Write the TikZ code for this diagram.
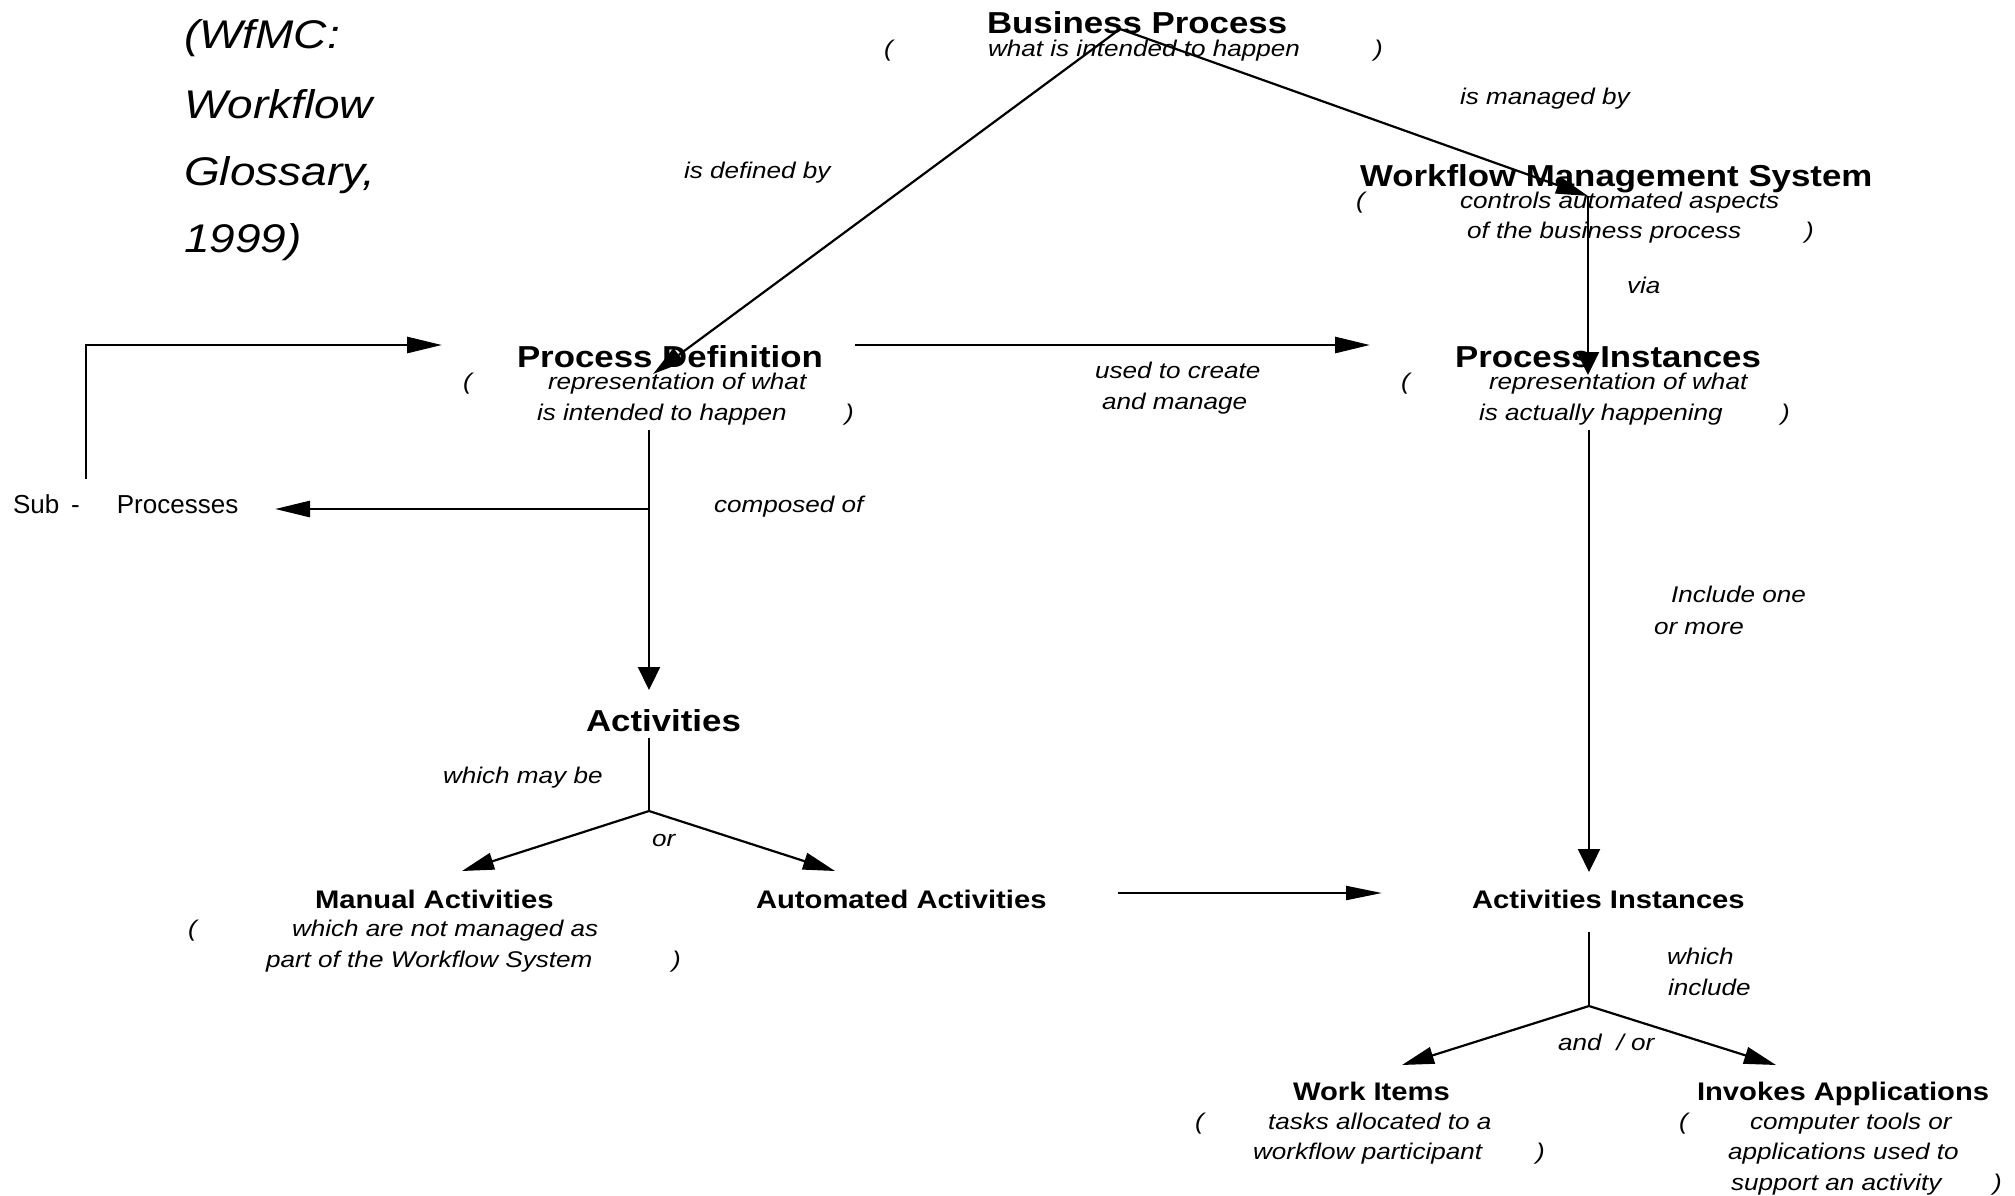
\documentclass[tikz,border=0pt]{standalone}
\usepackage{fontspec}
\setmainfont{Liberation Sans}
\newfontfamily\wf[FakeStretch=1.15]{Liberation Sans}
\usetikzlibrary{arrows.meta}
\tikzset{
  t/.style={anchor=base west, inner sep=0pt, outer sep=0pt},
  bigt/.style={t, font=\wf\bfseries\fontsize{30.3}{36}\selectfont},
  smt/.style={t, font=\wf\bfseries\fontsize{25.4}{30}\selectfont},
  desc/.style={t, font=\wf\itshape\fontsize{22.7}{27}\selectfont},
  citetxt/.style={t, font=\wf\itshape\fontsize{40}{48}\selectfont},
  plaintxt/.style={t, font=\fontsize{26}{31}\selectfont},
  con/.style={line width=2.2pt, draw=black},
  tcon/.style={line width=2.8pt, draw=black},
  darr/.style={-{Triangle[length=32pt,width=17pt]}},
  varr/.style={-{Triangle[length=23pt,width=22pt]}},
  harr/.style={-{Triangle[length=35pt,width=16pt]}},
  harrb/.style={-{Triangle[length=36pt,width=14pt]}},
}
\begin{document}
\begin{tikzpicture}[x=1pt,y=-1pt]
\fill[white] (0,0) rectangle (2015,1195);
\useasboundingbox (0,0) rectangle (2015,1195);

% citation
\node[citetxt] (c1) at (184,48) {(WfMC:};
\node[citetxt] (c2) at (184,118) {Workflow};
\node[citetxt] (c3) at (184,185) {Glossary,};
\node[citetxt] (c4) at (184,252) {1999)};

% Business Process
\node[bigt] (bp) at (987,33) {Business Process};
\node[desc] (bpl) at (884,56) {(};
\node[desc] (bpd) at (988,56) {what is intended to happen};
\node[desc] (bpr) at (1374,56) {)};

\node[desc] (lmanaged) at (1460,104) {is managed by};
\node[desc] (ldefined) at (684,178) {is defined by};

% Workflow Management System
\node[bigt] (wms) at (1360,186) {Workflow Management System};
\node[desc] (wmsl) at (1356,208) {(};
\node[desc] (wmsd1) at (1460,208) {controls automated aspects};
\node[desc] (wmsd2) at (1467,238) {of the business process};
\node[desc] (wmsr) at (1805,238) {)};
\node[desc] (lvia) at (1627,293) {via};

% Process Definition
\node[bigt] (pd) at (517,367) {Process Definition};
\node[desc] (pdl) at (463,389) {(};
\node[desc] (pdd1) at (548,389) {representation of what};
\node[desc] (pdd2) at (537,420) {is intended to happen};
\node[desc] (pdr) at (845,420) {)};

\node[desc] (lused1) at (1095,378) {used to create};
\node[desc] (lused2) at (1102,409) {and manage};

% Process Instances
\node[bigt] (pi) at (1455,367) {Process Instances};
\node[desc] (pil) at (1401,389) {(};
\node[desc] (pid1) at (1489,389) {representation of what};
\node[desc] (pid2) at (1479,420) {is actually happening};
\node[desc] (pir) at (1781,420) {)};

% Sub-Processes
\node[plaintxt] (sub) at (13,513) {Sub\hspace{12pt}-\hspace{37pt}Processes};
\node[desc] (lcomposed) at (714,512) {composed of};

\node[desc] (linc1) at (1671,602) {Include one};
\node[desc] (linc2) at (1654,634) {or more};

% Activities
\node[bigt] (act) at (586,731) {Activities};
\node[desc] (lmay) at (443,783) {which may be};
\node[desc] (lor) at (652,846) {or};

\node[smt] (ma) at (315,908) {Manual Activities};
\node[desc] (mal) at (188,936) {(};
\node[desc] (mad1) at (292,936) {which are not managed as};
\node[desc] (mad2) at (266,967) {part of the Workflow System};
\node[desc] (mar) at (672,967) {)};

\node[smt] (aa) at (756,908) {Automated Activities};
\node[smt] (ai) at (1472,908) {Activities Instances};

\node[desc] (lwhich1) at (1667,964) {which};
\node[desc] (lwhich2) at (1668,995) {include};
\node[desc] (landor) at (1558,1050) {and\hspace{15pt}/ or};

% Work Items
\node[smt] (wi) at (1293,1100) {Work Items};
\node[desc] (wil) at (1195,1129) {(};
\node[desc] (wid1) at (1268,1129) {tasks allocated to a};
\node[desc] (wid2) at (1253,1159) {workflow participant};
\node[desc] (wir) at (1536,1159) {)};

% Invokes Applications
\node[smt] (ia) at (1697,1100) {Invokes Applications};
\node[desc] (ial) at (1679,1129) {(};
\node[desc] (iad1) at (1750,1129) {computer tools or};
\node[desc] (iad2) at (1728,1159) {applications used to};
\node[desc] (iad3) at (1731,1190) {support an activity};
\node[desc] (iar) at (1993,1190) {)};

% connector points
\coordinate (bpj) at (1120,29);
\coordinate (pdtip) at (653,374);
\coordinate (wmstip) at (1588,196);
\coordinate (pitop) at (1588,375);
\coordinate (pdright) at (855,345);
\coordinate (pileft) at (1370,345);
\coordinate (loopb) at (86,479);
\coordinate (loopc) at (86,345);
\coordinate (pdleft) at (442,345);
\coordinate (pdb) at (649,430);
\coordinate (subj) at (649,509);
\coordinate (subtip) at (275,509);
\coordinate (acttip) at (649,690);
\coordinate (actb) at (649,738);
\coordinate (actj) at (649,811);
\coordinate (matip) at (462,871);
\coordinate (aatip) at (835,871);
\coordinate (aaright) at (1118,893);
\coordinate (aileft) at (1382,893);
\coordinate (pib) at (1589,430);
\coordinate (aitop) at (1589,872);
\coordinate (aib) at (1589,932);
\coordinate (aij) at (1589,1006);
\coordinate (witip) at (1402,1065);
\coordinate (iatip) at (1776,1065);

% connectors
\draw[con,darr] (bpj) -- (pdtip);
\draw[con,darr] (bpj) -- (wmstip);
\draw[con,varr] (wmstip) -- (pitop);
\draw[tcon,harr] (pdright) -- (pileft);
\draw[tcon,harr] (loopb) -- (loopc) -- (pdleft);
\draw[con,varr] (pdb) -- (acttip);
\draw[tcon,harr] (subj) -- (subtip);
\draw[con] (actb) -- (actj);
\draw[con,darr] (actj) -- (matip);
\draw[con,darr] (actj) -- (aatip);
\draw[con,harrb] (aaright) -- (aileft);
\draw[con,varr] (pib) -- (aitop);
\draw[con] (aib) -- (aij);
\draw[con,darr] (aij) -- (witip);
\draw[con,darr] (aij) -- (iatip);
\end{tikzpicture}
\end{document}
